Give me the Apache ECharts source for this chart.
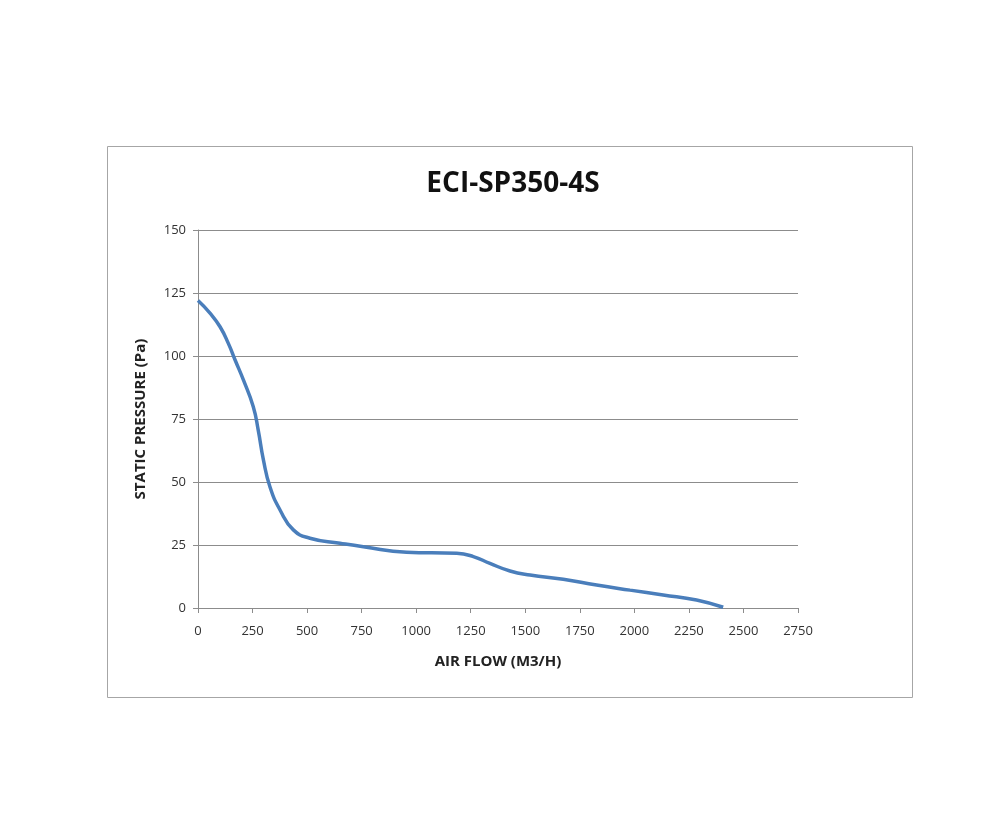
<!DOCTYPE html>
<html>
<head>
<meta charset="utf-8">
<script src="https://cdn.jsdelivr.net/npm/echarts@6/dist/echarts.min.js"></script>
<style>
  html, body { margin: 0; padding: 0; background: #fff; }
  #main { width: 983px; height: 839px; }
</style>
</head>
<body>
<div id="main"></div>
<script>
// fan curve
var flow = [0, 55, 101, 139, 170, 208, 253, 276, 300, 330, 376, 437, 513, 651, 758, 956, 1186, 1262, 1338, 1430, 1522, 1674, 1827, 1980, 2132, 2285, 2407];
var pressure = [122, 117, 111.6, 105, 98.4, 90.5, 80, 70.6, 58.7, 48, 38.9, 31, 27.7, 25.7, 24.3, 22.1, 21.7, 20.4, 17.7, 14.7, 13.1, 11.4, 9.1, 7.1, 5.2, 3.2, 0.3];
var title = 'ECI-SP350-4S';
var xName = 'AIR FLOW (M3/H)';
var yName = 'STATIC PRESSURE (Pa)';

var points = flow.map(function (f, i) { return [f, pressure[i]]; });

var font = '"Open Sans", "Liberation Sans", sans-serif';
var chart = echarts.init(document.getElementById('main'));

var option = {
  backgroundColor: '#fff',
  animation: false,
  graphic: [{
    type: 'rect',
    shape: { x: 107.5, y: 146.5, width: 805, height: 551 },
    style: { fill: 'none', stroke: '#a6a6a6', lineWidth: 1 },
    silent: true
  }],
  title: {
    text: title,
    left: 508,
    textAlign: 'center',
    top: 165,
    textStyle: { fontFamily: font, fontSize: 28, fontWeight: 'bold', color: '#111' }
  },
  grid: { left: 198, right: 185, top: 230, bottom: 231, containLabel: false },
  xAxis: {
    type: 'value',
    min: 0, max: 2750, interval: 250,
    name: xName,
    nameLocation: 'middle',
    nameGap: 46,
    nameTextStyle: { fontFamily: font, fontSize: 15, fontWeight: 'bold', color: '#222' },
    axisLine: { show: true, lineStyle: { color: '#8c8c8c', width: 1 } },
    axisTick: { show: true, length: 5, lineStyle: { color: '#8c8c8c' } },
    axisLabel: { fontFamily: font, fontSize: 13, color: '#333', margin: 17, formatter: function (v) { return String(v); } },
    splitLine: { show: false }
  },
  yAxis: {
    type: 'value',
    min: 0, max: 150, interval: 25,
    name: yName,
    nameLocation: 'middle',
    nameGap: 50,
    nameRotate: 90,
    nameTextStyle: { fontFamily: font, fontSize: 15, fontWeight: 'bold', color: '#222' },
    axisLine: { show: true, lineStyle: { color: '#8c8c8c', width: 1 } },
    axisTick: { show: true, length: 5, lineStyle: { color: '#8c8c8c' } },
    axisLabel: { fontFamily: font, fontSize: 13, color: '#333', margin: 12 },
    splitLine: { show: true, lineStyle: { color: '#8c8c8c', width: 1 } }
  },
  series: [{
    type: 'line',
    data: points,
    smooth: 0.5,
    showSymbol: false,
    lineStyle: { color: '#4a7ebb', width: 3.5 }
  }]
};

chart.setOption(option);
</script>
</body>
</html>
